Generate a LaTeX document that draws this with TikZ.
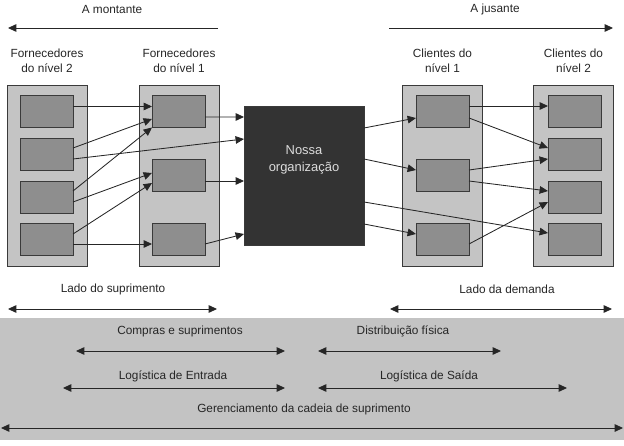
\documentclass[tikz,border=0pt]{standalone}
\usepackage{fontspec}
\setmainfont{Liberation Sans}
\usetikzlibrary{arrows.meta, positioning, calc}
\definecolor{panelgray}{HTML}{C4C4C4}
\definecolor{cellgray}{HTML}{8E8E8E}
\definecolor{edgegray}{HTML}{3A3A3A}
\definecolor{orgdark}{HTML}{333333}
\definecolor{orgtext}{HTML}{DCDCDC}
\definecolor{bandgray}{HTML}{C3C3C3}
\tikzset{%
panel/.style={
    rectangle, draw=edgegray, fill=panelgray, line width=0.6pt,
    minimum width=2cm, minimum height=4.525cm,
    inner sep=0pt, outer sep=0pt
},
cell/.style={
    rectangle, draw=edgegray, fill=cellgray, line width=0.6pt,
    minimum width=1.325cm, minimum height=0.8cm,
    inner sep=0pt, outer sep=0pt
},
org/.style={
    rectangle, draw=edgegray, fill=orgdark, line width=0.6pt,
    minimum width=3cm, minimum height=3.475cm,
    inner sep=0pt, outer sep=0pt
},
title/.style={align=center, inner sep=0pt, text=black!85,
    font=\fontsize{8.4}{10.7}\selectfont},
flow/.style={-{Triangle[length=0.21cm,width=0.19cm]}, line width=0.6pt, black!85},
span/.style={{Triangle[length=0.21cm,width=0.19cm]}-{Triangle[length=0.21cm,width=0.19cm]},
    line width=0.6pt, black!85},
}
\begin{document}
\begin{tikzpicture}[x=0.025cm, y=-0.025cm]
\useasboundingbox (0,0) rectangle (624,446);

% upstream / downstream
\node (montante) [title] at (112,9) {A montante};
\coordinate (mont-a) at (218,28);
\coordinate (mont-b) at (8,28);
\draw [flow] (mont-a) -- (mont-b);
\node (jusante) [title] at (495,9) {A jusante};
\coordinate (jus-a) at (389,28);
\coordinate (jus-b) at (613,28);
\draw [flow] (jus-a) -- (jus-b);

% suppliers, tier 2
\node (forn2) [panel] at (47,175.5) {};
\node [title, above=0.3cm of forn2] {Fornecedores\\do nível 2};
\node (f2-1) [cell] at (46.5,111.5) {};
\node (f2-2) [cell] at (46.5,154) {};
\node (f2-3) [cell] at (46.5,197) {};
\node (f2-4) [cell] at (46.5,239.5) {};
% suppliers, tier 1
\node (forn1) [panel] at (179,175.5) {};
\node [title, above=0.3cm of forn1] {Fornecedores\\do nível 1};
\node (f1-1) [cell] at (178.5,111.5) {};
\node (f1-2) [cell] at (178.5,175.5) {};
\node (f1-3) [cell] at (178.5,239.5) {};
% our company
\node (org) [org, label={[title, text=orgtext, font=\fontsize{9.2}{11.5}\selectfont,
    yshift=0.39cm]center:{Nossa\\organização}}] at (304,175.5) {};
% customers, tier 1
\node (cli1) [panel] at (442.5,175.5) {};
\node [title, above=0.3cm of cli1] {Clientes do\\nível 1};
\node (c1-1) [cell] at (442.5,111.5) {};
\node (c1-2) [cell] at (442.5,175.5) {};
\node (c1-3) [cell] at (442.5,239.5) {};
% customers, tier 2
\node (cli2) [panel] at (573.5,175.5) {};
\node [title, above=0.3cm of cli2] {Clientes do\\nível 2};
\node (c2-1) [cell] at (574.5,111.5) {};
\node (c2-2) [cell] at (574.5,154) {};
\node (c2-3) [cell] at (574.5,197) {};
\node (c2-4) [cell] at (574.5,239.5) {};

% supply side flows
\draw [flow] ($(f2-1.east)+(0,-5)$) -- ($(f1-1.west)+(0,-5)$);
\draw [flow] ($(f2-2.east)+(0,-6)$) -- ($(f1-1.west)+(0,7.5)$);
\draw [flow] ($(f2-2.east)+(0,5)$) -- ($(org.west)+(0,-36.5)$);
\draw [flow] ($(f2-3.east)+(0,-6)$) -- ($(f1-1.west)+(0,16)$);
\draw [flow] ($(f2-3.east)+(0,5)$) -- ($(f1-2.west)+(0,-2.5)$);
\draw [flow] ($(f2-4.east)+(0,-5.5)$) -- ($(f1-2.west)+(0,7.5)$);
\draw [flow] ($(f2-4.east)+(0,4.5)$) -- ($(f1-3.west)+(0,4.5)$);
\draw [flow] ($(f1-1.east)+(0,5.5)$) -- ($(org.west)+(0,-58.5)$);
\draw [flow] ($(f1-2.east)+(0,5.5)$) -- ($(org.west)+(0,5.5)$);
\draw [flow] ($(f1-3.east)+(0,4.5)$) -- ($(org.west)+(0,58.5)$);
% demand side flows
\draw [flow] ($(org.east)+(0,-47.5)$) -- ($(c1-1.west)+(0,6.5)$);
\draw [flow] ($(org.east)+(0,-16.5)$) -- ($(c1-2.west)+(0,-5.5)$);
\draw [flow] ($(org.east)+(0,26.5)$) -- ($(c2-4.west)+(0,-6.5)$);
\draw [flow] ($(org.east)+(0,48.5)$) -- ($(c1-3.west)+(0,-5.5)$);
\draw [flow] ($(c1-1.east)+(0,-5.5)$) -- ($(c2-1.west)+(0,-5.5)$);
\draw [flow] ($(c1-1.east)+(0,6.5)$) -- ($(c2-2.west)+(0,-6)$);
\draw [flow] ($(c1-2.east)+(0,-5.5)$) -- ($(c2-2.west)+(0,5)$);
\draw [flow] ($(c1-2.east)+(0,5.5)$) -- ($(c2-3.west)+(0,-6)$);
\draw [flow] ($(c1-3.east)+(0,4.5)$) -- ($(c2-3.west)+(0,5)$);

% sides
\node (lado-sup) [title] at (113,289) {Lado do suprimento};
\coordinate (sup-a) at (8,309);
\coordinate (sup-b) at (217,309);
\draw [span] (sup-a) -- (sup-b);
\node (lado-dem) [title] at (507,289) {Lado da demanda};
\coordinate (dem-a) at (390,309);
\coordinate (dem-b) at (612,309);
\draw [span] (dem-a) -- (dem-b);

% logistics band
\fill [bandgray] (0,318) rectangle (624,440);
\node (compras) [title] at (180,331) {Compras e suprimentos};
\coordinate (comp-a) at (76,351);
\coordinate (comp-b) at (285,351);
\draw [span] (comp-a) -- (comp-b);
\node (distr) [title] at (403,331) {Distribuição física};
\coordinate (dist-a) at (318,351);
\coordinate (dist-b) at (501,351);
\draw [span] (dist-a) -- (dist-b);
\node (log-ent) [title] at (173,376) {Logística de Entrada};
\coordinate (ent-a) at (63,388);
\coordinate (ent-b) at (285,388);
\draw [span] (ent-a) -- (ent-b);
\node (log-sai) [title] at (429,376) {Logística de Saída};
\coordinate (sai-a) at (318,388);
\coordinate (sai-b) at (567,388);
\draw [span] (sai-a) -- (sai-b);
\node (gcs) [title] at (304,409) {Gerenciamento da cadeia de suprimento};
\coordinate (gcs-a) at (1,428);
\coordinate (gcs-b) at (623,428);
\draw [span] (gcs-a) -- (gcs-b);
\end{tikzpicture}
\end{document}
